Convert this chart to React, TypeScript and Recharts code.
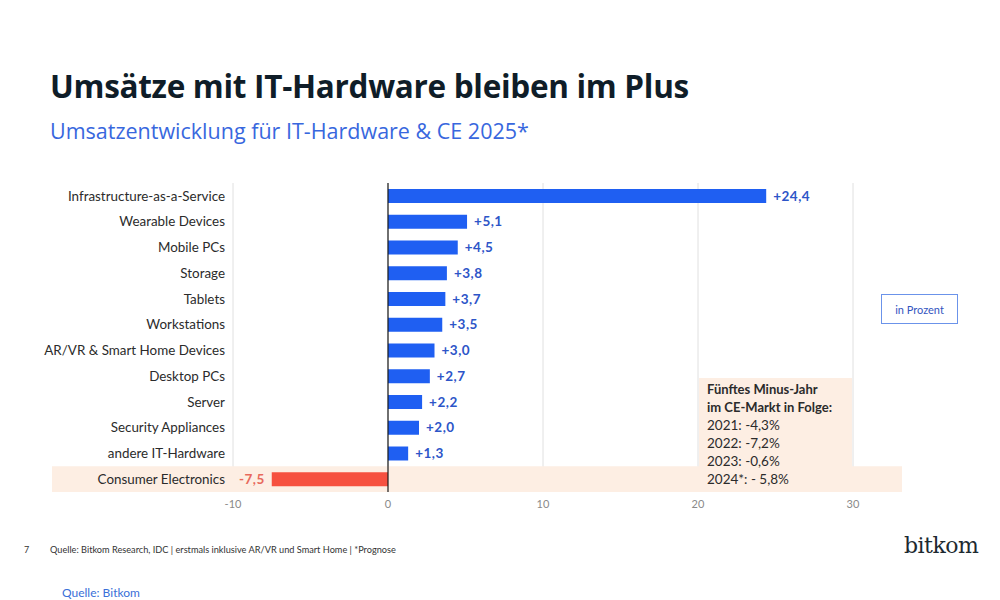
import React from "react";
import {
  BarChart,
  Bar,
  XAxis,
  YAxis,
  CartesianGrid,
  ReferenceLine,
  ReferenceArea,
  LabelList,
  Cell,
} from "recharts";

const categories = [
  "Infrastructure-as-a-Service",
  "Wearable Devices",
  "Mobile PCs",
  "Storage",
  "Tablets",
  "Workstations",
  "AR/VR & Smart Home Devices",
  "Desktop PCs",
  "Server",
  "Security Appliances",
  "andere IT-Hardware",
  "Consumer Electronics",
];
const growth = [24.4, 5.1, 4.5, 3.8, 3.7, 3.5, 3.0, 2.7, 2.2, 2.0, 1.3, -7.5];
const xTicks = [-10, 0, 10, 20, 30];
const ceNoteTitle = ["Fünftes Minus-Jahr", "im CE-Markt in Folge:"];
const ceNoteLines = ["2021: -4,3%", "2022: -7,2%", "2023: -0,6%", "2024*: - 5,8%"];

const data = categories.map((name, i) => ({ name, value: growth[i] }));

const BLUE = "#1f5ff2";
const RED = "#f6503f";
const PEACH = "#fdeee3";
const FONT = "Lato, 'Open Sans', sans-serif";

const fmt = (v: number) =>
  (v > 0 ? "+" : "") + v.toFixed(1).replace(".", ",");

const ValueLabel = (props: any) => {
  const { x, y, width, height, value } = props;
  const left = Math.min(x, x + width);
  const right = Math.max(x, x + width);
  const cy = y + height / 2;
  const neg = value < 0;
  return (
    <text
      x={neg ? left - 7 : right + 7}
      y={cy}
      dy="0.35em"
      textAnchor={neg ? "end" : "start"}
      fontFamily={FONT}
      fontWeight={700}
      fontSize={13.5}
      letterSpacing={0.5}
      fill={neg ? "#e8695c" : "#2d55c8"}
    >
      {fmt(value)}
    </text>
  );
};

const CategoryTick = (props: any) => {
  const { x, y, payload } = props;
  return (
    <text
      x={x}
      y={y}
      dy="0.35em"
      textAnchor="end"
      fontFamily={FONT}
      fontSize={13.4}
      fill="#2b2b2b"
    >
      {payload.value}
    </text>
  );
};

const BandShape = (props: any) => {
  const { y, height } = props;
  return <rect x={52} y={y} width={850} height={height} fill={PEACH} />;
};

export default function App() {
  return (
    <div
      style={{
        position: "absolute",
        left: 0,
        top: 0,
        width: 1000,
        height: 600,
        background: "#fff",
        fontFamily: FONT,
        overflow: "hidden",
      }}
    >
      <div
        style={{
          position: "absolute",
          left: 50,
          top: 64,
          fontFamily: "'Open Sans', sans-serif",
          fontWeight: 700,
          fontSize: 31.5,
          color: "#0f1d28",
          whiteSpace: "nowrap",
          letterSpacing: -0.3,
        }}
      >
        Umsätze mit IT-Hardware bleiben im Plus
      </div>
      <div
        style={{
          position: "absolute",
          left: 50,
          top: 116,
          fontFamily: "'Open Sans', sans-serif",
          fontSize: 21.5,
          color: "#3867de",
          whiteSpace: "nowrap",
        }}
      >
        Umsatzentwicklung für IT-Hardware &amp; CE 2025*
      </div>

      <div style={{ position: "absolute", left: 0, top: 0 }}>
        <BarChart
          width={1000}
          height={600}
          data={data}
          layout="vertical"
          margin={{ top: 183, right: 147, bottom: 78, left: 50 }}
        >
          <ReferenceArea
            y1="Consumer Electronics"
            y2="Consumer Electronics"
            shape={<BandShape />}
            isFront={false}
          />
          <CartesianGrid horizontal={false} stroke="#e0e0e0" strokeWidth={1} />
          <XAxis
            type="number"
            domain={[-10, 30]}
            ticks={xTicks}
            axisLine={false}
            tickLine={false}
            tick={{ fontSize: 11, fill: "#8a8a8a", fontFamily: FONT }}
            height={30}
          />
          <YAxis
            type="category"
            dataKey="name"
            width={183}
            axisLine={false}
            tickLine={false}
            interval={0}
            tick={<CategoryTick />}
          />
          <Bar dataKey="value" barSize={14} isAnimationActive={false}>
            {data.map((d) => (
              <Cell key={d.name} fill={d.value < 0 ? RED : BLUE} />
            ))}
            <LabelList dataKey="value" content={<ValueLabel />} />
          </Bar>
          <ReferenceLine x={0} stroke="#1a1a1a" strokeWidth={1.2} />
        </BarChart>
      </div>

      <div
        style={{
          position: "absolute",
          left: 699,
          top: 378,
          width: 153,
          height: 114,
          background: PEACH,
          boxSizing: "border-box",
          padding: "2px 0 0 8px",
          fontFamily: FONT,
          fontSize: 13.5,
          lineHeight: "18px",
          color: "#2b2b2b",
          whiteSpace: "nowrap",
        }}
      >
        {ceNoteTitle.map((t) => (
          <div key={t} style={{ fontWeight: 700, fontSize: 13 }}>
            {t}
          </div>
        ))}
        {ceNoteLines.map((t) => (
          <div key={t}>{t}</div>
        ))}
      </div>

      <div
        style={{
          position: "absolute",
          left: 881,
          top: 294,
          width: 77,
          height: 30,
          boxSizing: "border-box",
          border: "1.5px solid #6b93ea",
          color: "#3355c0",
          fontSize: 11,
          fontFamily: FONT,
          display: "flex",
          alignItems: "center",
          justifyContent: "center",
        }}
      >
        in Prozent
      </div>

      <div
        style={{
          position: "absolute",
          left: 24,
          top: 544,
          fontSize: 9,
          color: "#333",
          fontFamily: FONT,
        }}
      >
        7
      </div>
      <div
        style={{
          position: "absolute",
          left: 50,
          top: 544,
          fontSize: 9.2,
          color: "#333",
          fontFamily: FONT,
          whiteSpace: "nowrap",
        }}
      >
        Quelle: Bitkom Research, IDC | erstmals inklusive AR/VR und Smart Home | *Prognose
      </div>
      <div
        style={{
          position: "absolute",
          left: 904,
          top: 533,
          fontSize: 22,
          color: "#1d2a30",
          fontFamily: "'DejaVu Serif', serif",
          letterSpacing: -0.5,
        }}
      >
        bitkom
      </div>
      <div
        style={{
          position: "absolute",
          left: 62,
          top: 585,
          fontSize: 12,
          color: "#3a6fd8",
          fontFamily: FONT,
        }}
      >
        Quelle: Bitkom
      </div>
    </div>
  );
}
